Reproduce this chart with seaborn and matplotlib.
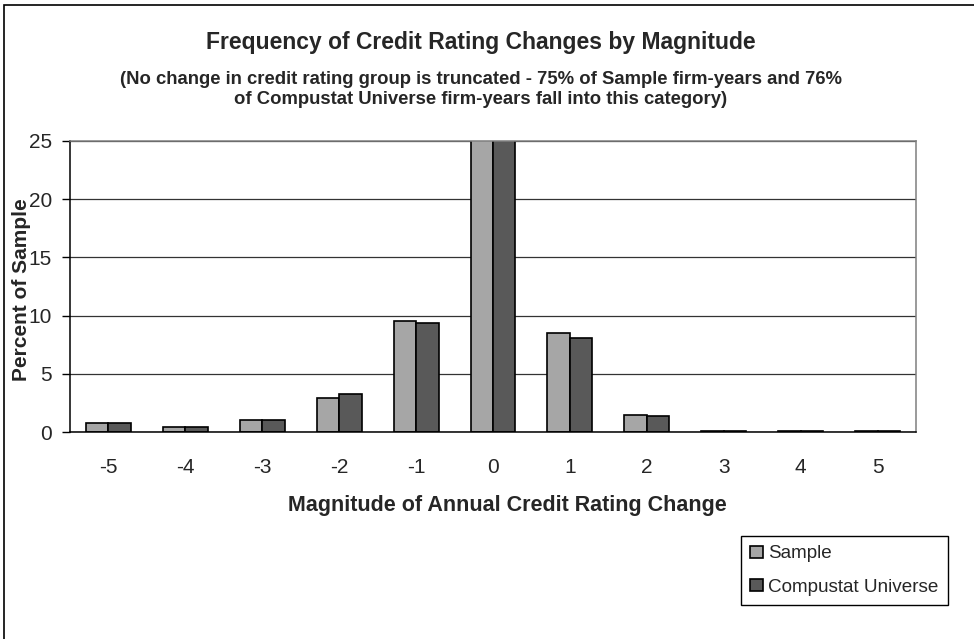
import matplotlib
matplotlib.use("Agg")
import matplotlib.pyplot as plt
import matplotlib.patches as mpatches
import seaborn as sns
import pandas as pd

categories = ['-5', '-4', '-3', '-2', '-1', '0', '1', '2', '3', '4', '5']
sample = [0.75, 0.4, 1.0, 2.95, 9.55, 75, 8.5, 1.5, 0.1, 0.1, 0.1]
compustat = [0.75, 0.4, 1.0, 3.25, 9.4, 76, 8.05, 1.35, 0.1, 0.1, 0.1]
series_names = ['Sample', 'Compustat Universe']
yticks = [0, 5, 10, 15, 20, 25]

df = pd.DataFrame({
    'change': categories * 2,
    'percent': sample + compustat,
    'series': [series_names[0]] * len(categories) + [series_names[1]] * len(categories),
})

sns.set_theme(style='white')
plt.rcParams['font.family'] = ['Liberation Sans', 'DejaVu Sans']

fig = plt.figure(figsize=(9.74, 6.39), dpi=100)
ax = fig.add_axes([70 / 974, 1 - 432 / 639, 846 / 974, 291 / 639])

sns.barplot(data=df, x='change', y='percent', hue='series', order=categories,
            hue_order=series_names, palette=['#a6a6a6', '#595959'],
            width=0.585, gap=0, edgecolor='black', linewidth=1.2,
            saturation=1, ax=ax, legend=True)

ax.set_ylim(0, 25)
ax.set_xlim(-0.5, len(categories) - 0.5)
ax.set_yticks(yticks)
ax.set_yticklabels([str(t) for t in yticks], fontsize=15)
ax.set_xticks(range(len(categories)))
ax.set_xticklabels(categories, fontsize=15)
ax.set_xticks([i - 0.5 for i in range(len(categories) + 1)], minor=True)
ax.tick_params(axis='x', which='major', length=0, pad=19)
ax.tick_params(axis='x', which='minor', length=6, width=1, color='black', direction='out')
ax.tick_params(axis='y', which='major', length=6, width=1, color='black', direction='out', pad=7, left=True)

ax.yaxis.grid(True, color='#333333', linewidth=0.9)
ax.set_axisbelow(True)
for s in ['left', 'bottom']:
    ax.spines[s].set_color('black')
    ax.spines[s].set_linewidth(1.1)
for s in ['top', 'right']:
    ax.spines[s].set_color('#7f7f7f')
    ax.spines[s].set_linewidth(1.1)
    ax.spines[s].set_visible(True)

ax.set_xlabel('Magnitude of Annual Credit Rating Change', fontsize=15.5, fontweight='bold', va='center')
ax.xaxis.set_label_coords((507 - 70) / 846, (432 - 505) / 291)
ax.set_ylabel('Percent of Sample', fontsize=15, fontweight='bold', va='center')
ax.yaxis.set_label_coords(22 / 974, 1 - 290 / 639, transform=fig.transFigure)

fig.text(481 / 974, 1 - 42 / 639, 'Frequency of Credit Rating Changes by Magnitude',
         ha='center', va='center', fontsize=16.5, fontweight='bold')
fig.text(481 / 974, 1 - 89.5 / 639,
         '(No change in credit rating group is truncated - 75% of Sample firm-years and 76%\n'
         'of Compustat Universe firm-years fall into this category)',
         ha='center', va='center', fontsize=13.3, fontweight='bold', linespacing=1.25)

handles, labels = ax.get_legend_handles_labels()
ax.get_legend().remove()
leg = fig.legend(handles, labels, loc='upper left',
                 bbox_to_anchor=(741 / 974, 1 - 536 / 639), fontsize=13.6,
                 frameon=True, fancybox=False, edgecolor='black', framealpha=1,
                 handlelength=0.65, handleheight=0.65, handletextpad=0.3,
                 labelspacing=0.85, borderpad=0.5, borderaxespad=0)
leg.get_frame().set_linewidth(1.0)

fig.add_artist(mpatches.Rectangle((4 / 974, -0.05), 1.2, 1 - 5 / 639 + 0.05,
                                  transform=fig.transFigure, fill=False,
                                  edgecolor='black', linewidth=1.2, clip_on=False))

fig.savefig('out.png', dpi=100)
